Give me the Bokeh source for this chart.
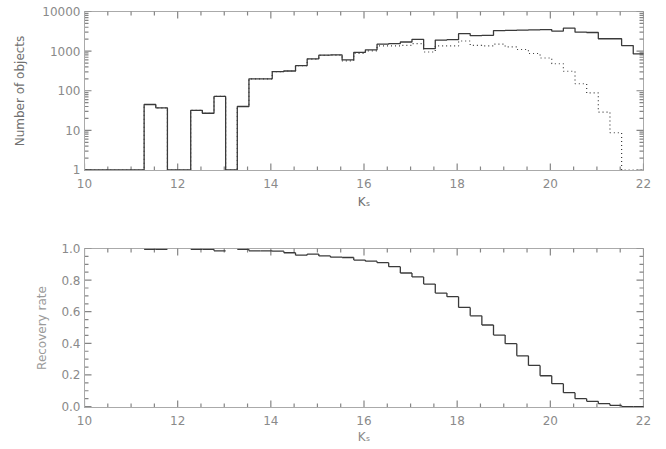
import math
from bokeh.plotting import figure
from bokeh.models import (FixedTicker, PrintfTickFormatter, Range1d, ColumnDataSource)
from bokeh.layouts import column
from bokeh.embed import file_html
from bokeh.resources import INLINE

# ---------------- data ----------------
bin_edges = [9.78, 10.03, 10.28, 10.53, 10.78, 11.03, 11.28, 11.53, 11.78, 12.03,
             12.28, 12.53, 12.78, 13.03, 13.28, 13.53, 13.78, 14.03, 14.28, 14.53,
             14.78, 15.03, 15.28, 15.53, 15.78, 16.03, 16.28, 16.53, 16.78, 17.03,
             17.28, 17.53, 17.78, 18.03, 18.28, 18.53, 18.78, 19.03, 19.28, 19.53,
             19.78, 20.03, 20.28, 20.53, 20.78, 21.03, 21.28, 21.53, 21.78, 22.03]

# total counts (solid); empty bins drawn at 1
counts_all = [1, 1, 1, 1, 1, 1, 45, 37, 1, 1,
              32, 27, 72, 1, 40, 200, 200, 305, 315, 430,
              640, 790, 800, 600, 930, 1080, 1500, 1550, 1700, 1980,
              1150, 1900, 1950, 2750, 2450, 2500, 3300, 3350, 3400, 3450,
              3500, 3200, 3800, 3000, 2950, 2050, 2050, 1380, 850]

# recovered counts (dotted)
counts_rec = [1, 1, 1, 1, 1, 1, 45, 37, 1, 1,
              32, 27, 72, 1, 40, 200, 200, 305, 315, 430,
              630, 780, 790, 570, 870, 1020, 1350, 1350, 1400, 1550,
              950, 1350, 1350, 1800, 1400, 1350, 1500, 1280, 1100, 870,
              670, 480, 310, 150, 88, 29, 8.7, 1, 1]

nan = float("nan")
recovery = [nan, nan, nan, nan, nan, nan, 0.995, 0.995, nan, nan,
            0.995, 0.995, 0.985, nan, 0.995, 0.985, 0.985, 0.983, 0.973, 0.958,
            0.965, 0.953, 0.945, 0.943, 0.927, 0.92, 0.91, 0.885, 0.845, 0.82,
            0.775, 0.718, 0.695, 0.627, 0.574, 0.516, 0.452, 0.398, 0.321, 0.26,
            0.195, 0.145, 0.088, 0.05, 0.033, 0.018, 0.007, 0.0, 0.0]

x_major = [10, 12, 14, 16, 18, 20, 22]
y_log_major = [1, 10, 100, 1000, 10000]
y_log_labels = ["1", "10", "100", "1000", "10000"]
y_lin_major = [0.0, 0.2, 0.4, 0.6, 0.8, 1.0]

x_minor = [10 + 0.5 * i for i in range(25) if i % 4]
y_log_minor = [m * 10 ** d for d in range(4) for m in range(2, 10)]
y_lin_minor = [0.05 * i for i in range(21) if i % 4]

# ---------------- style ----------------
FRAME = "#aaaaaa"
TICK = "#858585"
TICKLBL = "#8a8a8a"
LINE = "#3a3a3a"
FONT = "DejaVu Sans"


def style_axis(ax):
    ax.axis_line_color = FRAME
    ax.major_tick_line_color = None
    ax.minor_tick_line_color = None
    ax.major_tick_in = 0
    ax.major_tick_out = 0
    ax.minor_tick_in = 0
    ax.minor_tick_out = 0
    ax.major_label_text_font = FONT
    ax.major_label_text_color = TICKLBL
    ax.major_label_text_font_size = "12px"
    ax.axis_label_text_font = FONT
    ax.axis_label_text_font_style = "normal"
    ax.axis_label_text_font_size = "12px"


def base_fig(height, y_range, y_type, top, bottom):
    p = figure(width=666, height=height, x_range=Range1d(10, 22), y_range=y_range,
               y_axis_type=y_type, output_backend="svg", toolbar_location=None,
               min_border_left=84, min_border_right=23, min_border_top=top,
               min_border_bottom=bottom, background_fill_color="white",
               border_fill_color="white")
    p.xgrid.visible = False
    p.ygrid.visible = False
    p.outline_line_color = FRAME
    return p


def inward_ticks(p, xmaj, xmin, ymaj, ymin):
    """IDL-style ticks pointing into the frame on all four sides; half of each
    centred dash is clipped away by the frame."""
    x0, x1 = p.x_range.start, p.x_range.end
    y0, y1 = p.y_range.start, p.y_range.end
    for ticks, size in ((xmaj, 14), (xmin, 8)):
        xs = list(ticks) + list(ticks)
        ys = [y0] * len(ticks) + [y1] * len(ticks)
        p.scatter(xs, ys, marker="dash", angle=math.pi / 2, size=size,
                  line_color=TICK, line_width=1.2)
    for ticks, size in ((ymaj, 14), (ymin, 8)):
        ys = list(ticks) + list(ticks)
        xs = [x0] * len(ticks) + [x1] * len(ticks)
        p.scatter(xs, ys, marker="dash", size=size, line_color=TICK, line_width=1.2)


# ---------------- top panel ----------------
p1 = base_fig(225, Range1d(0.97, 10000), "log", 11, 55)
inward_ticks(p1, x_major, x_minor, y_log_major, y_log_minor)
ys_all = counts_all + [counts_all[-1]]
ys_rec = counts_rec + [counts_rec[-1]]
p1.step(bin_edges, ys_rec, mode="after", line_color=LINE, line_width=1.2, line_dash="1 3")
p1.step(bin_edges, ys_all, mode="after", line_color=LINE, line_width=1.3)

p1.xaxis.ticker = FixedTicker(ticks=x_major)
p1.yaxis.ticker = FixedTicker(ticks=y_log_major)
p1.yaxis.major_label_overrides = dict(zip(y_log_major, y_log_labels))
for ax in p1.xaxis + p1.yaxis:
    style_axis(ax)
p1.xaxis.axis_label = "K\u209b"
p1.xaxis.axis_label_text_color = "#707070"
p1.xaxis.major_label_standoff = 8
p1.xaxis.axis_label_standoff = 4
p1.yaxis.axis_label = "Number of objects"
p1.yaxis.axis_label_text_color = "#707070"
p1.yaxis.major_label_standoff = 4
p1.yaxis.axis_label_standoff = 12

# ---------------- bottom panel ----------------
p2 = base_fig(224, Range1d(-0.006, 1.0), "linear", 23, 42)
inward_ticks(p2, x_major, x_minor, y_lin_major, y_lin_minor)

hx0, hx1, hy = [], [], []
vx, vy0, vy1 = [], [], []
for i, r in enumerate(recovery):
    if not math.isnan(r):
        hx0.append(bin_edges[i]); hx1.append(bin_edges[i + 1]); hy.append(r)
        if i + 1 < len(recovery) and not math.isnan(recovery[i + 1]):
            vx.append(bin_edges[i + 1]); vy0.append(r); vy1.append(recovery[i + 1])
hs = ColumnDataSource(dict(x0=hx0, x1=hx1, y=hy))
vs = ColumnDataSource(dict(x=vx, y0=vy0, y1=vy1))
p2.segment(x0="x0", y0="y", x1="x1", y1="y", source=hs, line_color=LINE, line_width=1.3)
p2.segment(x0="x", y0="y0", x1="x", y1="y1", source=vs, line_color=LINE, line_width=1.3)

p2.xaxis.ticker = FixedTicker(ticks=x_major)
p2.yaxis.ticker = FixedTicker(ticks=y_lin_major)
p2.yaxis.formatter = PrintfTickFormatter(format="%.1f")
for ax in p2.xaxis + p2.yaxis:
    style_axis(ax)
p2.xaxis.axis_label = "K\u209b"
p2.xaxis.axis_label_text_color = "#8a8a8a"
p2.xaxis.major_label_standoff = 8
p2.xaxis.axis_label_standoff = 2
p2.yaxis.axis_label = "Recovery rate"
p2.yaxis.axis_label_text_color = "#9a9a9a"
p2.yaxis.major_label_standoff = 4
p2.yaxis.axis_label_standoff = 9

layout = column(p1, p2)
open("out.html", "w").write(file_html(layout, INLINE))
